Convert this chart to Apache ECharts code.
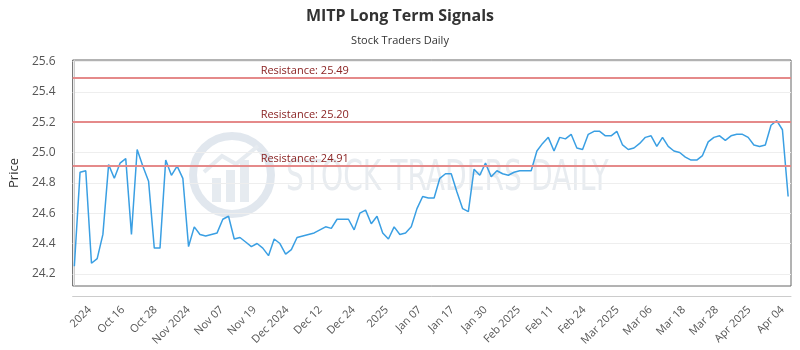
<!DOCTYPE html>
<html>
<head>
<meta charset="utf-8">
<script src="https://cdn.jsdelivr.net/npm/echarts@6/dist/echarts.min.js"></script>
<style>html,body{margin:0;padding:0;background:#fff}#c{width:800px;height:350px}</style>
</head>
<body>
<div id="c"></div>
<script>
// Daily closing prices (one per trading day)
var prices = [
  24.25, 24.87, 24.88, 24.27, 24.30, 24.46, 24.92, 24.83, 24.93, 24.96,
  24.46, 25.02, 24.91, 24.81, 24.37, 24.37, 24.95, 24.85, 24.91, 24.83,
  24.38, 24.51, 24.46, 24.45, 24.46, 24.47, 24.56, 24.58, 24.43, 24.44,
  24.41, 24.38, 24.40, 24.37, 24.32, 24.43, 24.40, 24.33, 24.36, 24.44,
  24.45, 24.46, 24.47, 24.49, 24.51, 24.50, 24.56, 24.56, 24.56, 24.49,
  24.60, 24.62, 24.53, 24.58, 24.47, 24.43, 24.51, 24.46, 24.47, 24.51,
  24.63, 24.71, 24.70, 24.70, 24.83, 24.86, 24.86, 24.74, 24.63, 24.61,
  24.89, 24.85, 24.93, 24.84, 24.88, 24.86, 24.85, 24.87, 24.88, 24.88,
  24.88, 25.01, 25.06, 25.10, 25.01, 25.10, 25.09, 25.12, 25.03, 25.02,
  25.12, 25.14, 25.14, 25.11, 25.11, 25.14, 25.05, 25.02, 25.03, 25.06,
  25.10, 25.11, 25.04, 25.10, 25.04, 25.01, 25.00, 24.97, 24.95, 24.95,
  24.98, 25.07, 25.10, 25.11, 25.08, 25.11, 25.12, 25.12, 25.10, 25.05,
  25.04, 25.05, 25.18, 25.21, 25.15, 24.71
];
// Resistance levels
var resistance = [25.49, 25.20, 24.91];
// X tick labels and where they fall (in trading-day index units)
var xTickLabels = ['2024','Oct 16','Oct 28','Nov 2024','Nov 07','Nov 19','Dec 2024','Dec 12','Dec 24','2025',
  'Jan 07','Jan 17','Jan 30','Feb 2025','Feb 11','Feb 24','Mar 2025','Mar 06','Mar 18','Mar 28','Apr 2025','Apr 04'];
var xTickPos = [2.7, 8.5, 14.2, 20.0, 25.8, 31.6, 37.3, 43.1, 48.9, 54.7, 60.5,
  66.2, 72.0, 77.8, 83.6, 89.3, 95.1, 100.9, 106.7, 112.5, 118.2, 124.0];
// Y tick values
var yTicks = [24.2, 24.4, 24.6, 24.8, 25.0, 25.2, 25.4, 25.6];

var seriesData = prices.map(function (v, i) { return [i, v]; });

var chart = echarts.init(document.getElementById('c'), null, {renderer: 'canvas'});
chart.setOption({
  animation: false,
  backgroundColor: '#fff',
  title: {
    text: 'MITP Long Term Signals',
    subtext: 'Stock Traders Daily',
    left: 'center',
    top: 3,
    itemGap: 11,
    textStyle: {fontFamily: 'Open Sans', fontSize: 16, fontWeight: 'bold', color: '#333'},
    subtextStyle: {fontFamily: 'Open Sans', fontSize: 11, color: '#333'}
  },
  grid: {
    left: 71, right: 9, top: 60, bottom: 64,
    show: true, borderColor: '#666', borderWidth: 1, backgroundColor: 'transparent'
  },
  graphic: [
    {type: 'circle', z: 0, silent: true, shape: {cx: 232, cy: 175, r: 39},
     style: {fill: 'none', stroke: '#e1e7ee', lineWidth: 8}},
    {type: 'rect', z: 0, silent: true, shape: {x: 212, y: 178, width: 9, height: 24}, style: {fill: '#e6ebf0'}},
    {type: 'rect', z: 0, silent: true, shape: {x: 226, y: 170, width: 9, height: 32}, style: {fill: '#e6ebf0'}},
    {type: 'rect', z: 0, silent: true, shape: {x: 240, y: 160, width: 9, height: 42}, style: {fill: '#e6ebf0'}},
    {type: 'polyline', z: 0, silent: true, shape: {points: [[204, 172], [222, 156], [236, 164], [258, 146]]},
     style: {stroke: '#e6ebf0', lineWidth: 4, fill: 'none'}},
    {type: 'text', z: 0, silent: true, x: 286, y: 158, scaleX: 0.67,
     style: {text: 'STOCK TRADERS DAILY', fontFamily: 'DejaVu Sans', fontSize: 42, fill: '#e8ecf0'}}
  ],
  xAxis: {
    type: 'value',
    min: -0.3,
    max: 125.5,
    offset: 10,
    axisLine: {show: true, lineStyle: {color: '#ccc'}},
    axisTick: {show: false},
    splitLine: {show: false},
    axisLabel: {
      customValues: xTickPos,
      rotate: 45,
      margin: 12,
      fontFamily: 'Open Sans',
      fontSize: 11,
      color: '#555',
      formatter: function (val) {
        for (var k = 0; k < xTickPos.length; k++) {
          if (Math.abs(xTickPos[k] - val) < 1e-6) return xTickLabels[k];
        }
        return '';
      }
    }
  },
  yAxis: {
    type: 'value',
    min: 24.12,
    max: 25.61,
    offset: 11,
    name: 'Price',
    nameLocation: 'middle',
    nameGap: 38,
    nameTextStyle: {fontFamily: 'Open Sans', fontSize: 13, color: '#333'},
    axisLine: {show: true, lineStyle: {color: '#ccc'}},
    axisTick: {show: false, customValues: yTicks},
    splitLine: {show: true, lineStyle: {color: '#eee'}},
    axisLabel: {
      customValues: yTicks,
      margin: 6,
      fontFamily: 'Open Sans',
      fontSize: 12,
      color: '#555',
      formatter: function (v) { return v.toFixed(1); }
    }
  },
  series: [{
    type: 'line',
    data: seriesData,
    showSymbol: false,
    symbol: 'none',
    lineStyle: {color: '#3a9fe3', width: 1.5},
    z: 3,
    markLine: {
      silent: true,
      symbol: ['none', 'none'],
      lineStyle: {color: '#e58a8a', width: 2, type: 'solid'},
      label: {
        position: 'insideStartTop',
        padding: [0, 0, 0, 186],
        distance: 2,
        fontFamily: 'Open Sans',
        fontSize: 11,
        color: '#8b2323',
        formatter: function (p) { return 'Resistance: ' + p.value.toFixed(2); }
      },
      data: resistance.map(function (r) { return {yAxis: r}; })
    }
  }]
});
</script>
</body>
</html>
